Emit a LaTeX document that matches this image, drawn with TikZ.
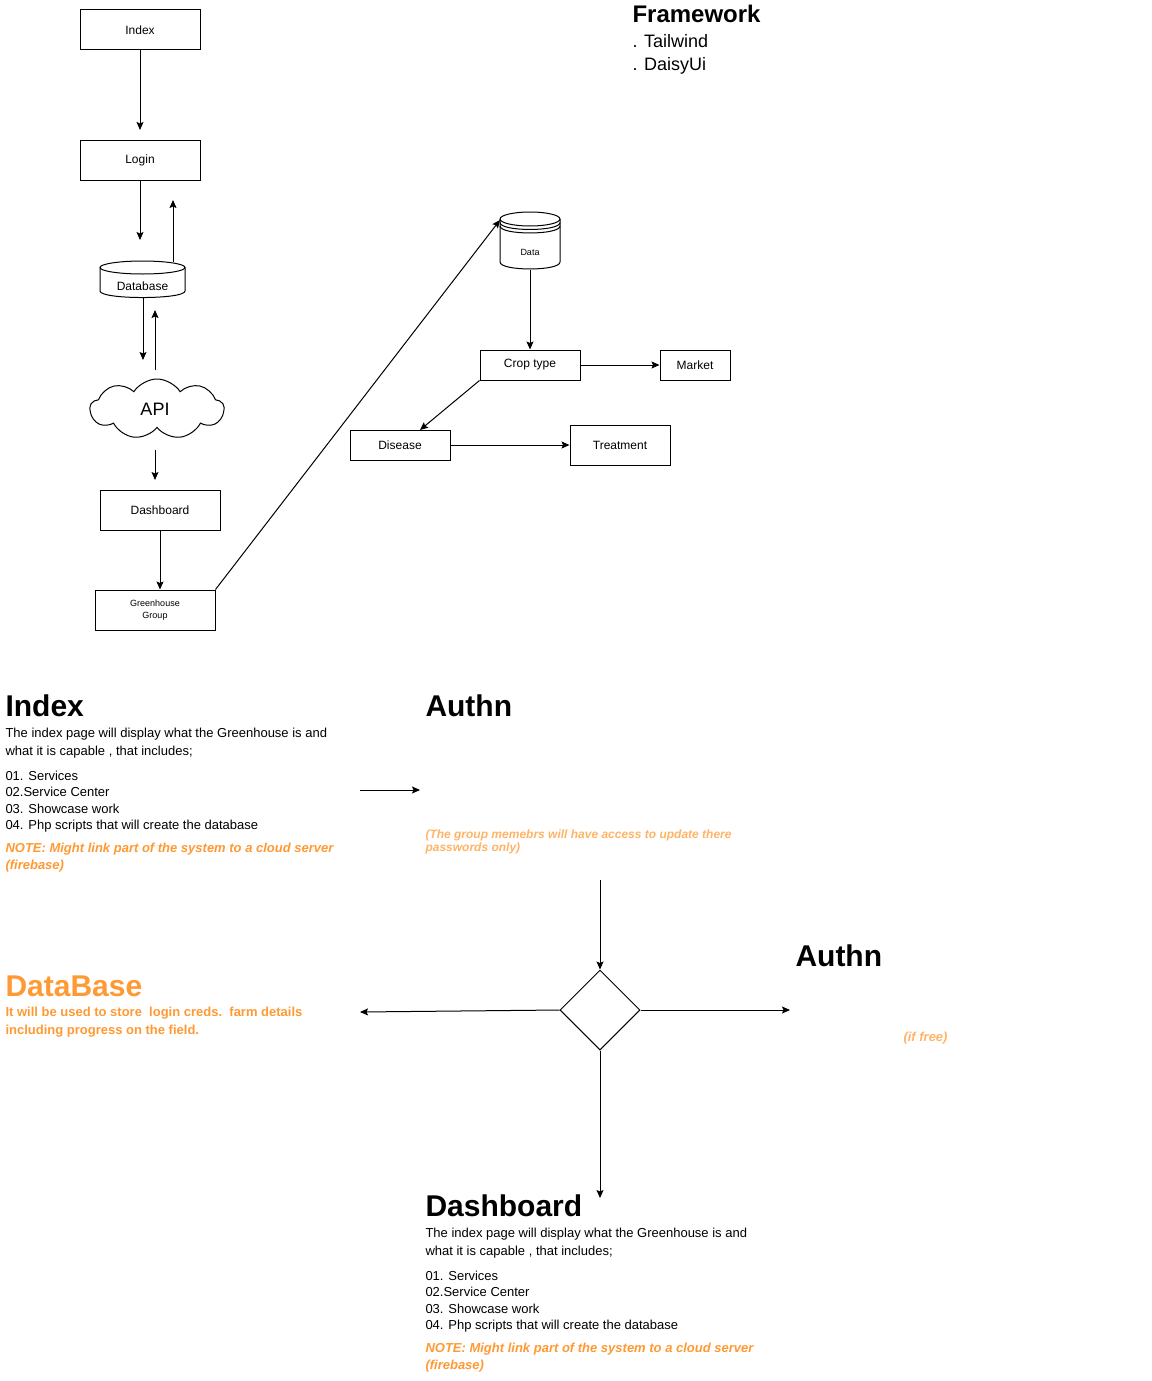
\documentclass[tikz,border=0pt]{standalone}
\usepackage{fontspec}
\setmainfont{Liberation Sans}
\usetikzlibrary{shapes.geometric,shapes.symbols,arrows.meta,calc}
\definecolor{noteorange}{HTML}{FF9933}
\definecolor{lightorange}{HTML}{FFB366}
\begin{document}
\begin{tikzpicture}[x=1pt,y=-1pt,
  every path/.style={line width=1pt},
  arr/.style={-{Stealth[length=8pt,width=7pt,inset=1.5pt]}, line width=1pt},
  box/.style={draw, line width=1pt, minimum width=120pt, minimum height=40pt, inner sep=0pt, font=\fontsize{12}{14}\selectfont},
  txt/.style={anchor=base west, inner sep=0pt},
  head/.style={txt, font=\fontsize{30}{34}\bfseries\selectfont},
  body/.style={txt, font=\fontsize{13}{15}\selectfont},
  note/.style={txt, text=noteorange, font=\fontsize{13}{15}\bfseries\itshape\selectfont},
  lnote/.style={txt, text=lightorange, font=\fontsize{12}{14}\bfseries\itshape\selectfont}
]
\useasboundingbox (0,0) rectangle (1151,1381);

% ---------- top-left flow ----------
\node[box] (index) at (140,30) {Index};
\node[box] (login) at (140,160) {Login};
\coordinate (c1) at (140,130);
\draw[arr] (index.south) -- (c1);
\coordinate (c2) at (140,240);
\draw[arr] (login.south) -- (c2);

% Database cylinder
\node[minimum width=85pt, minimum height=36pt, inner sep=0pt] (db) at (142.5,279) {};
\draw (142.5,267.5) ellipse [x radius=42.5, y radius=6.5];
\draw (100,267.5) -- (100,291) .. controls (100,299.7) and (185,299.7) .. (185,291) -- (185,267.5);
\node[inner sep=0pt, font=\fontsize{12}{14}\selectfont, anchor=base] (dbt) at (142.5,290) {Database};
\coordinate (c3a) at (173,262);
\coordinate (c3b) at (173,200);
\draw[arr] (c3a) -- (c3b);
\coordinate (c4a) at (143,298);
\coordinate (c4b) at (143,360);
\draw[arr] (c4a) -- (c4b);
\coordinate (c5a) at (155,370);
\coordinate (c5b) at (155,310);
\draw[arr] (c5a) -- (c5b);

% API cloud
\node[cloud, draw, cloud puffs=9, cloud puff arc=115, aspect=2.2, minimum width=134pt, minimum height=60pt, inner sep=0pt] (api) at (157,409) {};
\node[inner sep=0pt, font=\fontsize{18}{20}\selectfont] (apit) at (155,409) {API};
\coordinate (c6a) at (155,450);
\coordinate (c6b) at (155,480);
\draw[arr] (c6a) -- (c6b);

\node[box] (dash) at (160,510) {Dashboard};
\node[box, font=\fontsize{9}{12}\selectfont, align=center] (gh) at (155,610) {Greenhouse\\Group};
\draw[arr] (dash.south) -- (dash.south |- gh.north);

% Data store
\node[minimum width=60pt, minimum height=57pt, inner sep=0pt] (data) at (530,240.5) {};
\draw (530,219) ellipse [x radius=30, y radius=7];
\draw (500,222.5) .. controls (500,231.8) and (560,231.8) .. (560,222.5);
\draw (500,226) .. controls (500,235.3) and (560,235.3) .. (560,226);
\draw (500,219) -- (500,262) .. controls (500,271.3) and (560,271.3) .. (560,262) -- (560,219);
\node[inner sep=0pt, font=\fontsize{9}{11}\selectfont] (datat) at (530,252) {Data};
\coordinate (dataL) at (500,220);
\draw[arr] (gh.north east) -- (dataL);

\node[box, minimum width=100pt, minimum height=30pt] (crop) at (530,365) {Crop type};
\node[box, minimum width=70pt, minimum height=30pt] (market) at (695,365) {Market};
\node[box, minimum width=100pt, minimum height=30pt] (disease) at (400,445) {Disease};
\node[box, minimum width=100pt, minimum height=40pt] (treat) at (620,445) {Treatment};
\draw[arr] (data.south) -- (crop.north);
\draw[arr] (crop.east) -- (market.west);
\coordinate (c7) at (420,430);
\draw[arr] (crop.south west) -- (c7);
\draw[arr] (disease.east) -- (treat.west);

% ---------- Framework ----------
\node[txt, font=\fontsize{24}{28}\bfseries\selectfont] (fw) at (632,23) {Framework};
\node[txt, font=\fontsize{18}{20}\selectfont] (fw1) at (632,47.3) {. Tailwind};
\node[txt, font=\fontsize{18}{20}\selectfont] (fw2) at (632,70.7) {. DaisyUi};

% ---------- Index text ----------
\node[head] (ih) at (5,716) {Index};
\node[body] (i1) at (5,737) {The index page will display what the Greenhouse is and};
\node[body] (i2) at (5,755) {what it is capable , that includes;};
\node[body] (i3) at (5,780) {01. Services};
\node[body] (i4) at (5,796.5) {02.Service Center};
\node[body] (i5) at (5,813) {03. Showcase work};
\node[body] (i6) at (5,829.5) {04. Php scripts that will create the database};
\node[note] (i7) at (5,852.5) {NOTE: Might link part of the system to a cloud server};
\node[note] (i8) at (5,869.5) {(firebase)};

\coordinate (c8a) at (360,790);
\coordinate (c8b) at (420,790);
\draw[arr] (c8a) -- (c8b);

% ---------- Authn ----------
\node[head] (ah) at (425,716) {Authn};
\node[lnote] (a1) at (425,838) {(The group memebrs will have access to update there};
\node[lnote] (a2) at (425,851.7) {passwords only)};

% ---------- Diamond ----------
\node[diamond, draw, minimum width=80pt, minimum height=80pt, inner sep=0pt] (dia) at (600,1010) {};
\coordinate (c9) at (600,880);
\draw[arr] (c9) -- (dia.north);
\coordinate (c10) at (360,1012);
\draw[arr] (dia.west) -- (c10);
\coordinate (c11) at (790,1010);
\draw[arr] (dia.east) -- (c11);
\coordinate (c12) at (600,1198);
\draw[arr] (dia.south) -- (c12);

% ---------- right Authn ----------
\node[head] (ah2) at (795,966) {Authn};
\node[txt, text=lightorange, font=\fontsize{13}{15}\bfseries\itshape\selectfont] (af) at (903,1041) {(if free)};

% ---------- DataBase ----------
\node[head, text=noteorange] (dbh) at (5,996) {DataBase};
\node[txt, text=noteorange, font=\fontsize{13}{15}\bfseries\selectfont] (db1) at (5,1016) {It will be used to store\ \ login creds.\ \ farm details};
\node[txt, text=noteorange, font=\fontsize{13}{15}\bfseries\selectfont] (db2) at (5,1034) {including progress on the field.};

% ---------- Dashboard text ----------
\node[head] (dh) at (425,1216) {Dashboard};
\node[body] (d1) at (425,1237) {The index page will display what the Greenhouse is and};
\node[body] (d2) at (425,1255) {what it is capable , that includes;};
\node[body] (d3) at (425,1280) {01. Services};
\node[body] (d4) at (425,1296.5) {02.Service Center};
\node[body] (d5) at (425,1313) {03. Showcase work};
\node[body] (d6) at (425,1329.5) {04. Php scripts that will create the database};
\node[note] (d7) at (425,1352.5) {NOTE: Might link part of the system to a cloud server};
\node[note] (d8) at (425,1369.5) {(firebase)};
\end{tikzpicture}
\end{document}
